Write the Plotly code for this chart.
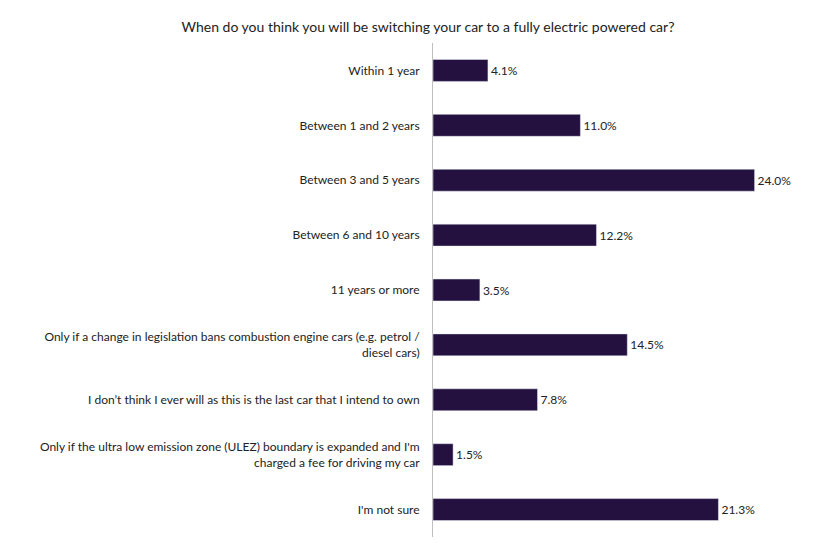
import plotly.graph_objects as go

categories = [
    "Within 1 year",
    "Between 1 and 2 years",
    "Between 3 and 5 years",
    "Between 6 and 10 years",
    "11 years or more",
    "Only if a change in legislation bans combustion engine cars (e.g. petrol /<br>diesel cars)",
    "I don\u2019t think I ever will as this is the last car that I intend to own",
    "Only if the ultra low emission zone (ULEZ) boundary is expanded and I'm<br>charged a fee for driving my car",
    "I'm not sure",
]
values = [4.1, 11.0, 24.0, 12.2, 3.5, 14.5, 7.8, 1.5, 21.3]

fig = go.Figure(go.Bar(
    x=values,
    y=categories,
    orientation="h",
    marker_color="#24113F",
    width=0.4,
    text=[f"{v:.1f}%" for v in values],
    textposition="outside",
    textfont=dict(size=12, color="#222"),
    cliponaxis=False,
))

fig.update_layout(
    width=840, height=549,
    margin=dict(l=425, r=13, t=35, b=20),
    plot_bgcolor="white", paper_bgcolor="white",
    font=dict(family="Lato, Open Sans, sans-serif", size=12, color="#222"),
    title=dict(text="When do you think you will be switching your car to a fully electric powered car?",
               x=420 / 840, xref="container", y=0.965, yanchor="middle",
               font=dict(size=14, color="#222")),
    showlegend=False,
)
fig.update_xaxes(range=[0, 30], visible=False, automargin=False)
fig.update_yaxes(autorange="reversed", showline=True, linecolor="#BFBFBF",
                 ticks="", ticklabelstandoff=10, showgrid=False, automargin=False)

fig.write_html("out.html")
